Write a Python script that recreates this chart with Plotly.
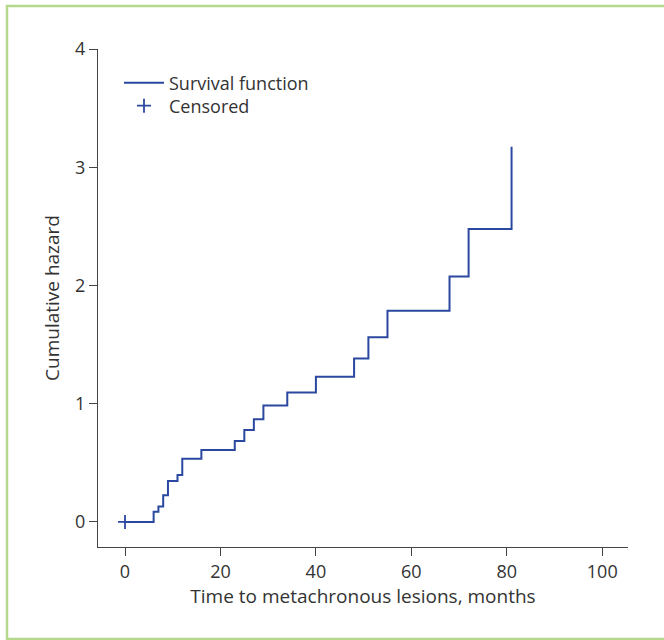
import plotly.graph_objects as go

# Event times (months) and cumulative hazard after each step
times = [0, 6, 7, 8, 9, 11, 12, 16, 23, 25, 27, 29, 34, 40, 48, 51, 55, 68, 72, 81]
hazard = [0, 0.087, 0.13, 0.226, 0.347, 0.397, 0.535, 0.609, 0.685, 0.778, 0.868,
          0.984, 1.095, 1.228, 1.383, 1.563, 1.786, 2.075, 2.478, 3.174]
censored_t = [0]
censored_h = [0]

x_ticks = [0, 20, 40, 60, 80, 100]
y_ticks = [0, 1, 2, 3, 4]

blue = "#2B48A0"
grey = "#444444"
text_col = "#333333"
font = "Open Sans, Noto Sans, sans-serif"

fig = go.Figure()
fig.add_trace(go.Scatter(
    x=times, y=hazard, mode="lines", line_shape="hv",
    line=dict(color=blue, width=2), name="Survival function", legend="legend"))
fig.add_trace(go.Scatter(
    x=censored_t, y=censored_h, mode="markers",
    marker=dict(symbol="cross-thin", size=10, line=dict(color=blue, width=1.8), color=blue),
    name="Censored", legend="legend2"))

L, R, T, B = 98, 36, 49, 93
W, H = 664, 640
pw, ph = W - L - R, H - T - B

def px(xp):
    return (xp - L) / pw

def py(yp):
    return (H - B - yp) / ph

leg_common = dict(xanchor="left", yanchor="middle", bgcolor="rgba(0,0,0,0)",
                  font=dict(size=18, color=text_col), itemwidth=40)

fig.update_layout(
    width=W, height=H,
    margin=dict(l=L, r=R, t=T, b=B),
    paper_bgcolor="white", plot_bgcolor="white",
    font=dict(family=font, size=18, color=text_col),
    showlegend=True,
    legend=dict(x=px(119), y=py(83), **leg_common),
    legend2=dict(x=px(119), y=py(106), **leg_common),
    xaxis=dict(range=[-5.66, 105.4], tickvals=x_ticks, showline=True,
               linecolor=grey, linewidth=1.3, ticks="outside", ticklen=8,
               tickcolor=grey, showgrid=False, zeroline=False,
               title=dict(text="Time to metachronous lesions, months",
                          font=dict(size=19, color=text_col), standoff=2),
               tickfont=dict(size=18, color=text_col)),
    yaxis=dict(range=[-0.212, 4.0], tickvals=y_ticks, showline=True,
               linecolor=grey, linewidth=1.3, ticks="outside", ticklen=8,
               tickcolor=grey, showgrid=False, zeroline=False,
               title=dict(text="Cumulative hazard",
                          font=dict(size=19, color=text_col), standoff=10),
               tickfont=dict(size=18, color=text_col)),
    shapes=[dict(type="rect", xref="paper", yref="paper",
                 x0=px(7), x1=px(700), y0=py(639), y1=py(6),
                 line=dict(color="#B5D98A", width=2.5), layer="below")],
)

fig.write_html("out.html", config={"displayModeBar": False},
               post_script="document.body.style.margin='0';document.body.style.overflow='hidden';")
